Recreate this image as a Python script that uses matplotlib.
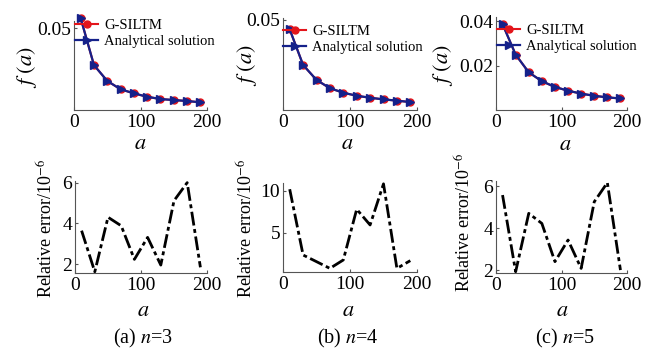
import matplotlib
matplotlib.use("Agg")
import matplotlib.pyplot as plt
from matplotlib.lines import Line2D

plt.rcParams["font.family"] = ["Liberation Serif", "DejaVu Serif"]
plt.rcParams["mathtext.fontset"] = "stix"

# grain size a (same grid for every panel)
a_values = [10, 30, 50, 70, 90, 110, 130, 150, 170, 190]

# f(a): G-SILTM and analytical solution overlap
f_n3 = [0.0563, 0.0275, 0.0178, 0.0127, 0.0102, 0.0081, 0.0067, 0.0061, 0.0055, 0.0047]
f_n4 = [0.0448, 0.0250, 0.0167, 0.0121, 0.0096, 0.0079, 0.0068, 0.0059, 0.0052, 0.0044]
f_n5 = [0.0388, 0.0250, 0.0170, 0.0130, 0.0104, 0.0087, 0.0074, 0.0064, 0.0057, 0.0052]

# relative error in units of 1e-6
err_n3 = [3.64, 1.62, 4.30, 3.88, 2.23, 3.31, 1.95, 5.11, 6.00, 1.84]
err_n4 = [10.16, 2.34, 1.55, 0.75, 1.75, 7.78, 5.91, 10.80, 0.75, 1.67]
err_n5 = [5.57, 1.92, 4.70, 4.22, 2.40, 3.43, 2.08, 5.25, 6.16, 2.00]

captions = ["(a) $n$=3", "(b) $n$=4", "(c) $n$=5"]

W, H = 659, 350
RED = "#e3151b"
NAVY = "#15218a"


def box(l, t, r, b):
    return [l / W, 1 - b / H, (r - l) / W, (b - t) / H]


def style(ax, ylim, yticks):
    ax.set_xlim(0, 200)
    ax.set_ylim(*ylim)
    ax.set_xticks([0, 100, 200])
    ax.set_yticks(yticks)
    for side in ("top", "right"):
        ax.spines[side].set_visible(False)
    for side in ("left", "bottom"):
        ax.spines[side].set_color("#555555")
        ax.spines[side].set_linewidth(0.8)
    ax.tick_params(direction="in", length=2.5, width=0.8, color="#555555",
                   labelsize=14)
    ax.tick_params(axis="x", pad=3)
    ax.tick_params(axis="y", pad=2)


fig = plt.figure(figsize=(W / 100, H / 100), dpi=100)

top_boxes = [(74, 21, 207, 110), (283, 18, 417, 110), (496, 17, 627, 110)]
top_lims = [(0, 0.0545), (0, 0.0511), (0, 0.042)]
top_ticks = [[0.05], [0.05], [0.02, 0.04]]
top_tick_fmt = [["0.05"], ["0.05"], ["0.02", "0.04"]]
legend_pos = [(75, 19), (283, 25), (497, 24)]
ylab_pos = [(27, 67), (247, 65), (443, 65)]
xlab_top = [(140, 144), (347, 144), (565, 145)]

bot_boxes = [(75, 181, 207, 273), (283, 183, 417, 272), (496, 181, 627, 273)]
bot_lims = [(1.56, 6.08), (0.32, 10.9), (1.86, 6.24)]
bot_ticks = [[2, 4, 6], [5, 10], [2, 4, 6]]
ylab_bot = [(47, 228), (247, 228), (465, 222)]
xlab_bot = [(143, 312), (348, 312), (562, 312)]
cap_pos = [(143, 338), (348, 338), (565, 338)]

f_sets = [f_n3, f_n4, f_n5]
err_sets = [err_n3, err_n4, err_n5]

for i in range(3):
    ax = fig.add_axes(box(*top_boxes[i]))
    ax.plot(a_values, f_sets[i], color=RED, lw=1.5, marker="o", ms=5,
            clip_on=False, zorder=3)
    ax.plot(a_values, f_sets[i], color=NAVY, lw=1.6, marker=">", ms=5.5,
            clip_on=False, zorder=4)
    style(ax, top_lims[i], top_ticks[i])
    ax.set_yticklabels(top_tick_fmt[i])

    handles = [
        Line2D([], [], color=RED, lw=1.5, marker="o", ms=5),
        Line2D([], [], color=NAVY, lw=1.6, marker=">", ms=5.5),
    ]
    lx, ly = legend_pos[i]
    leg = ax.legend(handles, ["G-SILTM", "Analytical solution"],
                    loc="upper left", bbox_to_anchor=(lx / W, 1 - ly / H),
                    bbox_transform=fig.transFigure, frameon=False,
                    fontsize=10.5, borderpad=0, borderaxespad=0,
                    handlelength=1.6, handletextpad=0.4,
                    labelspacing=0.15, numpoints=1)
    leg.set_zorder(10)

    fig.text(ylab_pos[i][0] / W, 1 - ylab_pos[i][1] / H, r"$f\ (a)$",
             rotation=90, ha="center", va="center", fontsize=16)
    fig.text(xlab_top[i][0] / W, 1 - xlab_top[i][1] / H, r"$a$",
             ha="center", va="center", fontsize=16)

    ax = fig.add_axes(box(*bot_boxes[i]))
    ax.plot(a_values, err_sets[i], color="black", lw=2,
            linestyle=(0, (5, 1.3, 1.4, 1.3)), clip_on=False)
    style(ax, bot_lims[i], bot_ticks[i])

    fig.text(ylab_bot[i][0] / W, 1 - ylab_bot[i][1] / H,
             r"Relative error/10$^{-6}$", rotation=90, ha="center",
             va="center", fontsize=13)
    fig.text(xlab_bot[i][0] / W, 1 - xlab_bot[i][1] / H, r"$a$",
             ha="center", va="center", fontsize=16)
    fig.text(cap_pos[i][0] / W, 1 - cap_pos[i][1] / H, captions[i],
             ha="center", va="center", fontsize=14.5)

fig.savefig("out.png", dpi=100)
